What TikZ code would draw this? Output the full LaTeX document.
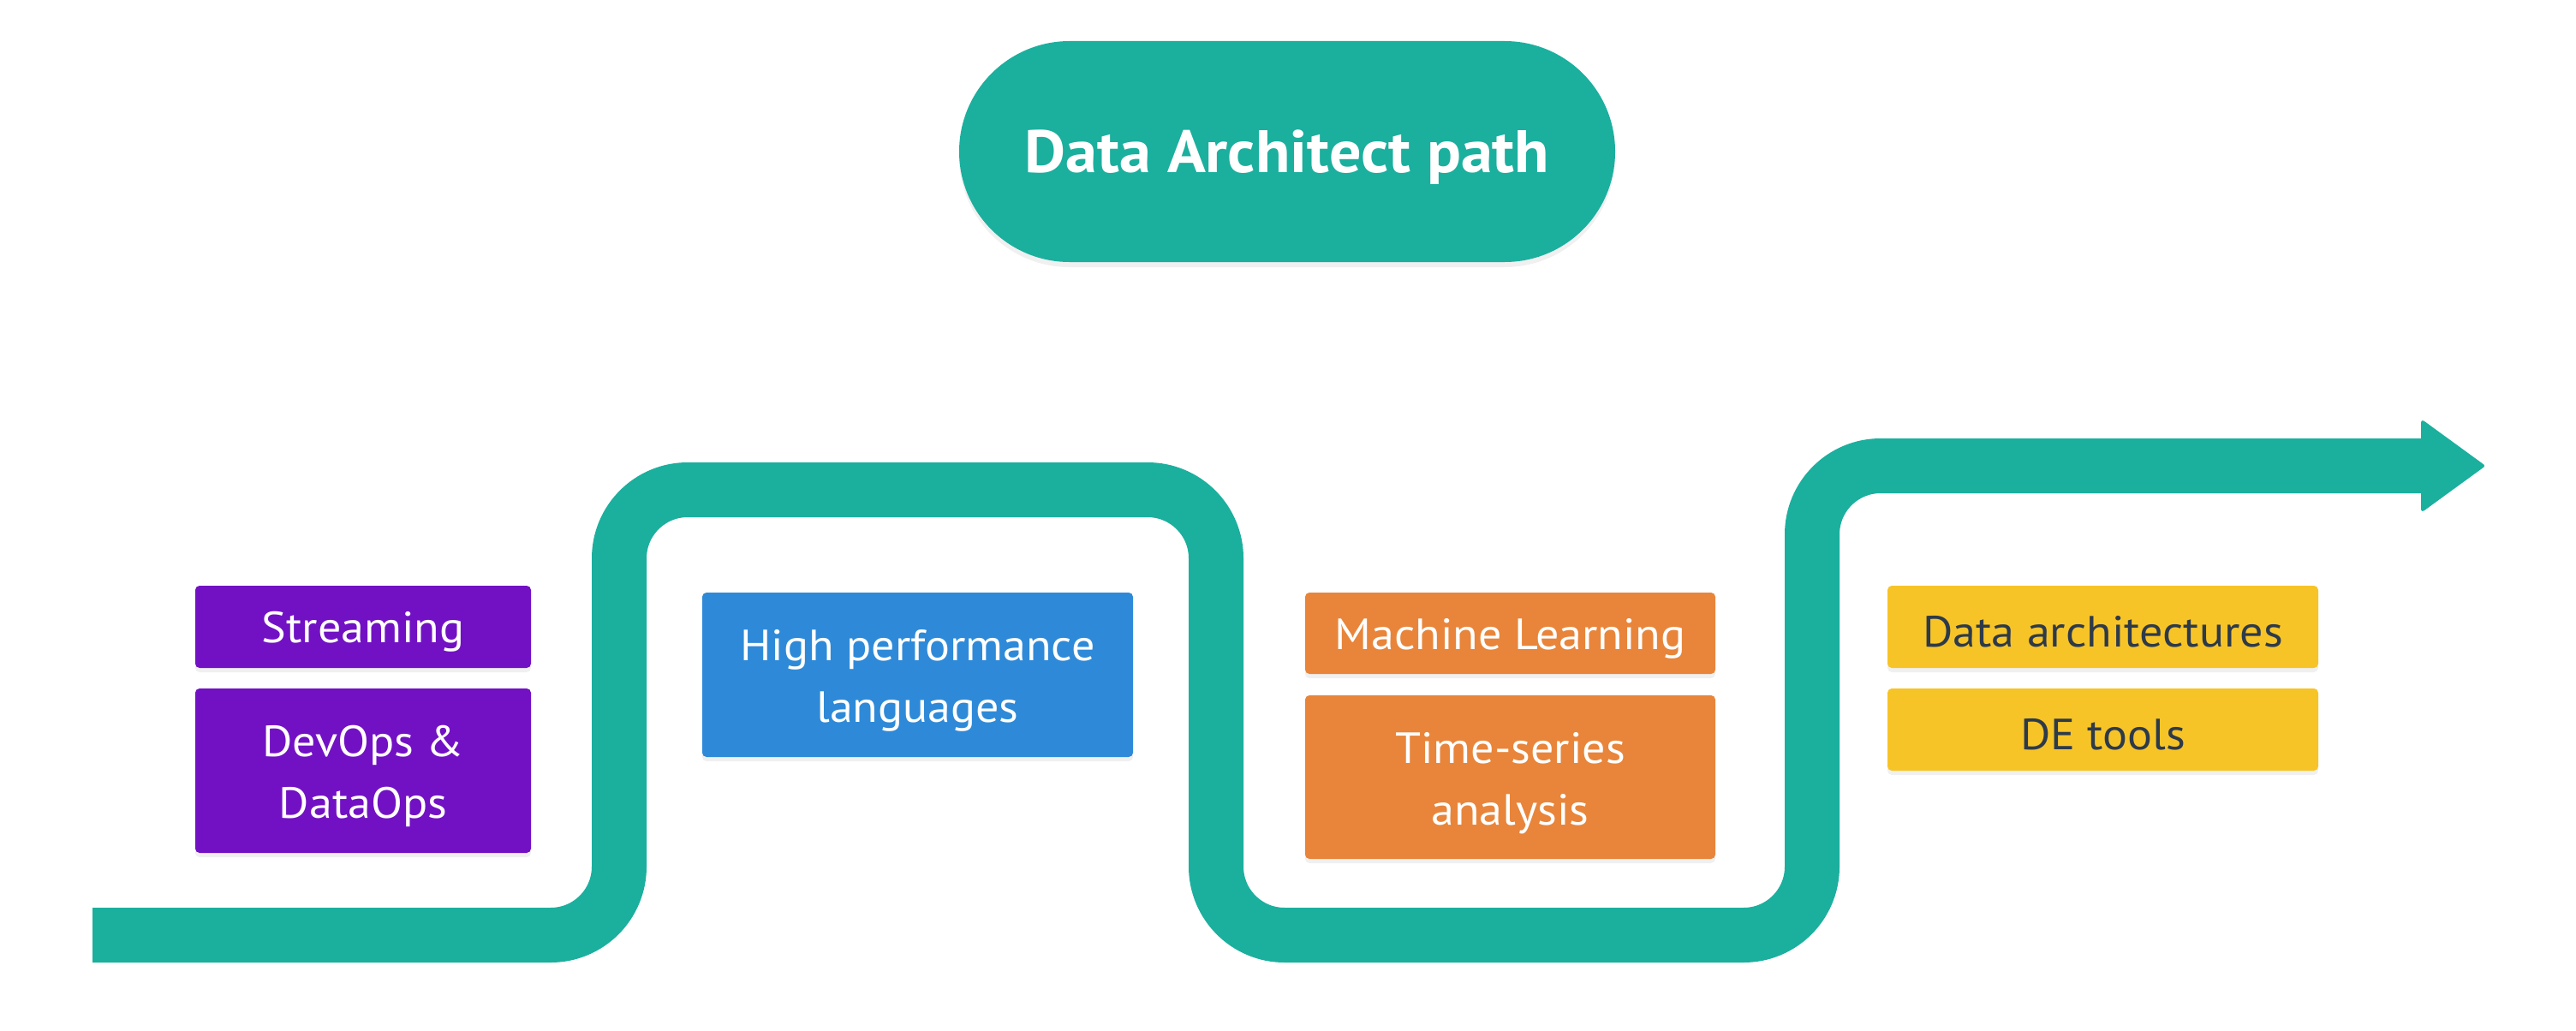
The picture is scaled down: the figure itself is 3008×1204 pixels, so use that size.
\documentclass[tikz,border=0pt]{standalone}
\usepackage{fontspec}
\setmainfont[FakeStretch=1.06]{PT Sans}
\usetikzlibrary{shadows}
\definecolor{teal}{HTML}{1BAF9E}
\definecolor{purp}{HTML}{7211C4}
\definecolor{blu}{HTML}{2E8AD8}
\definecolor{orng}{HTML}{E8853A}
\definecolor{yel}{HTML}{F7C427}
\definecolor{dark}{HTML}{2D3A4A}
\tikzset{
  box/.style={rectangle, rounded corners=5pt, inner sep=0pt, align=center,
    font=\fontsize{51}{72}\selectfont, text=white, text height=48pt,
    drop shadow={opacity=0.12, shadow xshift=0pt, shadow yshift=-5pt}},
  twoline/.style={text height=122pt},
  road/.style={draw=teal, line width=64pt, rounded corners=80pt},
}
\begin{document}
\begin{tikzpicture}[x=1pt,y=-1pt]
\useasboundingbox (0,0) rectangle (3008,1204);
% title
\node[rectangle, rounded corners=129pt, fill=teal, minimum width=766pt, minimum height=258pt,
  inner sep=0pt, text=white, font=\bfseries\fontsize{70}{84}\selectfont, text height=62pt,
  drop shadow={opacity=0.12, shadow xshift=0pt, shadow yshift=-6pt}]
  (title) at (1503,177) {Data Architect path};
% road
\coordinate (r0) at (108,1092);
\coordinate (r1) at (723,1092);
\coordinate (r2) at (723,572);
\coordinate (r3) at (1420,572);
\coordinate (r4) at (1420,1092);
\coordinate (r5) at (2116,1092);
\coordinate (r6) at (2116,544);
\coordinate (r7) at (2830,544);
\coordinate (tip) at (2899,544);
\draw[road] (r0) -- (r1) -- (r2) -- (r3) -- (r4) -- (r5) -- (r6) -- (r7);
\fill[teal, draw=teal, line width=4pt, line join=round] (2829,493) -- (tip) -- (2829,595) -- cycle;
% boxes
\node[box, fill=purp, minimum width=392pt, minimum height=96pt] (stream) at (424,732) {Streaming};
\node[box, twoline, fill=purp, minimum width=392pt, minimum height=192pt] (devops) at (424,900) {DevOps \&\\DataOps};
\node[box, twoline, fill=blu, minimum width=503pt, minimum height=192pt] (hpl) at (1071.5,788) {High performance\\languages};
\node[box, fill=orng, minimum width=479pt, minimum height=95pt] (ml) at (1763.5,739.5) {Machine Learning};
\node[box, twoline, fill=orng, minimum width=479pt, minimum height=191pt] (ts) at (1763.5,907.5) {Time-series\\analysis};
\node[box, fill=yel, text=dark, minimum width=503pt, minimum height=96pt] (da) at (2455.5,732) {Data architectures};
\node[box, fill=yel, text=dark, minimum width=503pt, minimum height=96pt] (de) at (2455.5,852) {DE tools};
\end{tikzpicture}
\end{document}
